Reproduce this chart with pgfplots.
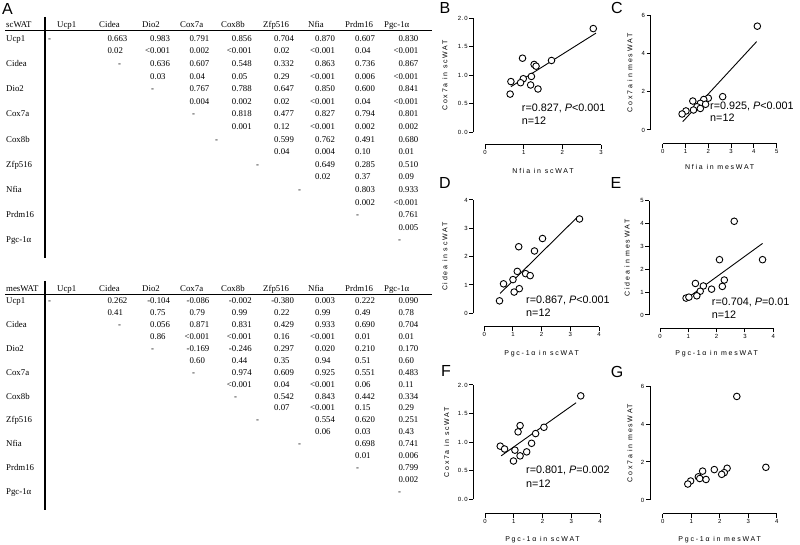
\documentclass[border=0pt]{standalone}
\usepackage{fontspec}
\setmainfont{Liberation Serif}
\newfontfamily\arial{Liberation Sans}
\newfontfamily\arialsp{Liberation Sans}[LetterSpace=25]
\newfontfamily\arialtk{Liberation Sans}[LetterSpace=12]
\usepackage{pgfplots}
\pgfplotsset{compat=1.18}

\newcommand\tabfont{\fontsize{8.8}{10}\selectfont}
\newcommand\tickfont{\fontsize{6}{7}\selectfont\arialtk}
\newcommand\labfont{\fontsize{7}{8}\selectfont\arialsp}
\newcommand\annfont{\fontsize{10.8}{12}\selectfont\arial}
\newcommand\ltp{\llap{<}}
\newcommand\mnp{\llap{-}}
\def\colX{{0,107.3,150,189.3,231.7,274,315,355,398.3}}
\tikzset{cell/.style={anchor=base west, inner sep=0pt, font=\tabfont}}

% #1 y of line0 (px), #2 step, #3 row idx, #4 label, #5 dash x, #6 first col, #7 r list, #8 p list
\newcommand\trow[8]{%
  \pgfmathsetmacro\by{545-(#1+2*#3*#2+2.9)}%
  \pgfmathsetmacro\bp{\by-#2}%
  \node[cell] at (6pt,\by pt) {#4};
  \node[cell] at (#5pt,\by pt) {-};
  \foreach \v [count=\ci from #6] in {#7} {\pgfmathsetmacro\xx{\colX[\ci]}\node[cell] at (\xx pt,\by pt) {\v};}
  \foreach \v [count=\ci from #6] in {#8} {\pgfmathsetmacro\xx{\colX[\ci]}\node[cell] at (\xx pt,\bp pt) {\v};}
}
\newcommand\tlast[4]{%
  \pgfmathsetmacro\by{545-(#1+2*#3*#2+2.9)}%
  \node[cell] at (6pt,\by pt) {#4};
  \node[cell] at (398pt,\by pt) {-};
}
\newcommand\theader[2]{%
  \foreach \t/\x in {#2/6,Ucp1/57,Cidea/99,Dio2/142,Cox7a/180,Cox8b/221,Zfp516/263,Nfia/308,Prdm16/345,Pgc-1α/384}
    {\node[cell] at (\x pt,#1pt) {\t};}
}

\pgfplotsset{
  gp/.style={
    scale only axis, enlargelimits=false, clip=false, anchor=south west,
    axis x line*=bottom, axis y line*=left,
    axis line style={line width=1pt, black},
    tick align=outside, major tick length=4pt,
    tick style={line width=1pt, black},
    ticklabel style={font=\tickfont, inner sep=1.5pt},
    /pgf/number format/assume math mode=true,
    label style={font=\labfont, anchor=center},
  },
  pts/.style={only marks, mark=*, mark size=3.3pt,
    mark options={fill=white, draw=black, line width=0.9pt}},
  reg/.style={black, line width=0.9pt, no marks},
  dec1/.style={yticklabel style={/pgf/number format/.cd, fixed, fixed zerofill, precision=1}},
}

\begin{document}
\begin{tikzpicture}
\useasboundingbox (0pt,0pt) rectangle (800pt,545pt);

% ---------- Panel A: tables ----------
\node[anchor=center, inner sep=0pt, font=\fontsize{16}{16}\selectfont\arial] at (7.5pt,535.8pt) {A};

% Table 1 (scWAT)
\draw[line width=1.3pt] (45pt,528pt) -- (45pt,287pt);
\draw[line width=0.8pt] (5pt,515pt) -- (432pt,515pt);
\theader{517.1}{scWAT}
\trow{38.5}{12.6}{0}{Ucp1}{48}{1}{0.663,0.983,0.791,0.856,0.704,0.870,0.607,0.830}{0.02,\ltp0.001,0.002,\ltp0.001,0.02,\ltp0.001,0.04,\ltp0.001}
\trow{38.5}{12.6}{1}{Cidea}{118}{2}{0.636,0.607,0.548,0.332,0.863,0.736,0.867}{0.03,0.04,0.05,0.29,\ltp0.001,0.006,\ltp0.001}
\trow{38.5}{12.6}{2}{Dio2}{151}{3}{0.767,0.788,0.647,0.850,0.600,0.841}{0.004,0.002,0.02,\ltp0.001,0.04,\ltp0.001}
\trow{38.5}{12.6}{3}{Cox7a}{192}{4}{0.818,0.477,0.827,0.794,0.801}{0.001,0.12,\ltp0.001,0.002,0.002}
\trow{38.5}{12.6}{4}{Cox8b}{215}{5}{0.599,0.762,0.491,0.680}{0.04,0.004,0.10,0.01}
\trow{38.5}{12.6}{5}{Zfp516}{256}{6}{0.649,0.285,0.510}{0.02,0.37,0.09}
\trow{38.5}{12.6}{6}{Nfia}{298}{7}{0.803,0.933}{0.002,\ltp0.001}
\trow{38.5}{12.6}{7}{Prdm16}{356}{8}{0.761}{0.005}
\tlast{38.5}{12.6}{8}{Pgc-1α}

% Table 2 (mesWAT)
\draw[line width=1.3pt] (45pt,264pt) -- (45pt,35pt);
\draw[line width=0.8pt] (5pt,251pt) -- (432pt,251pt);
\theader{253.1}{mesWAT}
\trow{301}{11.9}{0}{Ucp1}{48}{1}{0.262,\mnp0.104,\mnp0.086,\mnp0.002,\mnp0.380,0.003,0.222,0.090}{0.41,0.75,0.79,0.99,0.22,0.99,0.49,0.78}
\trow{301}{11.9}{1}{Cidea}{118}{2}{0.056,0.871,0.831,0.429,0.933,0.690,0.704}{0.86,\ltp0.001,\ltp0.001,0.16,\ltp0.001,0.01,0.01}
\trow{301}{11.9}{2}{Dio2}{151}{3}{\mnp0.169,\mnp0.246,0.297,0.020,0.210,0.170}{0.60,0.44,0.35,0.94,0.51,0.60}
\trow{301}{11.9}{3}{Cox7a}{192}{4}{0.974,0.609,0.925,0.551,0.483}{\ltp0.001,0.04,\ltp0.001,0.06,0.11}
\trow{301}{11.9}{4}{Cox8b}{234}{5}{0.542,0.843,0.442,0.334}{0.07,\ltp0.001,0.15,0.29}
\trow{301}{11.9}{5}{Zfp516}{256}{6}{0.554,0.620,0.251}{0.06,0.03,0.43}
\trow{301}{11.9}{6}{Nfia}{298}{7}{0.698,0.741}{0.01,0.006}
\trow{301}{11.9}{7}{Prdm16}{356}{8}{0.799}{0.002}
\tlast{301}{11.9}{8}{Pgc-1α}

% ---------- Panel letters ----------
\foreach \l/\x/\y in {B/445/536.7,C/617/536.7,D/445/362,E/616/362,F/446/173.5,G/617/173.5}
  {\node[anchor=center, inner sep=0pt, font=\fontsize{16}{16}\selectfont\arial] at (\x pt,\y pt) {\l};}

% ---------- Panel B ----------
\begin{axis}[gp, dec1, at={(485pt,412.7pt)}, width=116pt, height=114pt,
  xmin=0, xmax=3, ymin=0, ymax=2, xtick={0,1,2,3}, ytick={0,0.5,1,1.5,2},
  axis x line shift=12.7pt, axis y line shift=11.7pt,
  xlabel={Nfia in scWAT}, ylabel={Cox7a in scWAT},
  xlabel style={at={(axis description cs:0.5,-0.339)}},
  ylabel style={at={(axis description cs:-0.345,0.5)}}]
\addplot[reg] coordinates {(0.67,0.80) (2.87,1.74)};
\addplot[pts] coordinates {(2.80,1.82) (1.72,1.26) (0.97,1.30) (1.27,1.19) (1.32,1.16) (1.20,0.98) (0.99,0.94) (0.67,0.89) (0.92,0.87) (1.18,0.83) (1.37,0.76) (0.65,0.67)};
\end{axis}

% ---------- Panel C ----------
\begin{axis}[gp, at={(662.7pt,415pt)}, width=114pt, height=114.3pt,
  xmin=0, xmax=5, ymin=0, ymax=6, xtick={0,1,2,3,4,5}, ytick={0,2,4,6},
  axis x line shift=14pt, axis y line shift=12pt,
  xlabel={Nfia in mesWAT}, ylabel={Cox7a in mesWAT},
  xlabel style={at={(axis description cs:0.5,-0.32)}},
  ylabel style={at={(axis description cs:-0.287,0.5)}}]
\addplot[reg] coordinates {(0.88,0.44) (4.12,4.64)};
\addplot[pts] coordinates {(4.15,5.45) (2.63,1.75) (2.00,1.67) (1.80,1.60) (1.32,1.52) (1.65,1.40) (1.88,1.35) (1.50,1.22) (1.65,1.13) (1.35,1.05) (1.02,1.00) (0.85,0.84)};
\end{axis}

% ---------- Panel D ----------
\begin{axis}[gp, at={(484.3pt,231.7pt)}, width=114.7pt, height=113.3pt,
  xmin=0, xmax=4, ymin=0, ymax=4, xtick={0,1,2,3,4}, ytick={0,1,2,3,4},
  axis x line shift=13.4pt, axis y line shift=11pt,
  xlabel={Pgc-1α in scWAT}, ylabel={Cidea in scWAT},
  xlabel style={at={(axis description cs:0.5,-0.353)}},
  ylabel style={at={(axis description cs:-0.343,0.5)}}]
\addplot[reg] coordinates {(0.55,0.70) (3.28,3.43)};
\addplot[pts] coordinates {(3.32,3.33) (2.03,2.64) (1.20,2.35) (1.75,2.20) (1.15,1.48) (1.44,1.40) (1.60,1.33) (1.00,1.19) (0.67,1.04) (1.22,0.87) (1.04,0.75) (0.53,0.44)};
\end{axis}

% ---------- Panel E ----------
\begin{axis}[gp, at={(660pt,230pt)}, width=113.3pt, height=114.3pt,
  xmin=0, xmax=4, ymin=0, ymax=5, xtick={0,1,2,3,4}, ytick={0,1,2,3,4,5},
  axis x line shift=13.3pt, axis y line shift=10.7pt,
  xlabel={Pgc-1α in mesWAT}, ylabel={Cidea in mesWAT},
  xlabel style={at={(axis description cs:0.5,-0.341)}},
  ylabel style={at={(axis description cs:-0.29,0.5)}}]
\addplot[reg] coordinates {(0.92,0.70) (3.62,3.13)};
\addplot[pts] coordinates {(2.62,4.10) (2.10,2.42) (3.62,2.42) (2.27,1.53) (1.25,1.38) (1.53,1.27) (2.20,1.25) (1.82,1.13) (1.42,1.04) (1.30,0.84) (0.92,0.74) (1.02,0.78)};
\end{axis}

% ---------- Panel F ----------
\begin{axis}[gp, dec1, at={(485pt,45.7pt)}, width=115pt, height=114.3pt,
  xmin=0, xmax=4, ymin=0, ymax=2, xtick={0,1,2,3,4}, ytick={0,0.5,1,1.5,2},
  axis x line shift=14.7pt, axis y line shift=11.7pt,
  xlabel={Pgc-1α in scWAT}, ylabel={Cox7a in scWAT},
  xlabel style={at={(axis description cs:0.5,-0.356)}},
  ylabel style={at={(axis description cs:-0.333,0.5)}}]
\addplot[reg] coordinates {(0.56,0.76) (3.17,1.69)};
\addplot[pts] coordinates {(3.33,1.81) (2.05,1.26) (1.22,1.29) (1.15,1.18) (1.76,1.15) (1.62,0.98) (0.53,0.93) (0.68,0.88) (1.04,0.86) (1.45,0.83) (1.22,0.76) (0.99,0.67)};
\end{axis}

% ---------- Panel G ----------
\begin{axis}[gp, at={(662.7pt,45pt)}, width=114pt, height=114pt,
  xmin=0, xmax=4, ymin=0, ymax=6, xtick={0,1,2,3,4}, ytick={0,2,4,6},
  axis x line shift=14pt, axis y line shift=12.7pt,
  xlabel={Pgc-1α in mesWAT}, ylabel={Cox7a in mesWAT},
  xlabel style={at={(axis description cs:0.5,-0.35)}},
  ylabel style={at={(axis description cs:-0.287,0.5)}}]
\addplot[pts] coordinates {(2.60,5.45) (3.62,1.72) (1.81,1.60) (2.26,1.67) (1.40,1.52) (2.16,1.44) (2.07,1.35) (1.25,1.22) (1.30,1.13) (1.52,1.08) (0.98,1.00) (0.88,0.84)};
\end{axis}

% ---------- Annotations ----------
\begin{scope}[every node/.style={anchor=base west, inner sep=0pt, font=\annfont}]
\node at (521.7pt,433.4pt) {r=0.827, \textit{P}<0.001};
\node at (521.7pt,420.4pt) {n=12};
\node at (710pt,435.1pt) {r=0.925, \textit{P}<0.001};
\node at (710pt,423.1pt) {n=12};
\node at (526pt,241.8pt) {r=0.867, \textit{P}<0.001};
\node at (526pt,228.4pt) {n=12};
\node at (711.7pt,239.4pt) {r=0.704, \textit{P}=0.01};
\node at (711.7pt,226.1pt) {n=12};
\node at (526pt,71.1pt) {r=0.801, \textit{P}=0.002};
\node at (526pt,57.8pt) {n=12};
\end{scope}
\end{tikzpicture}
\end{document}
